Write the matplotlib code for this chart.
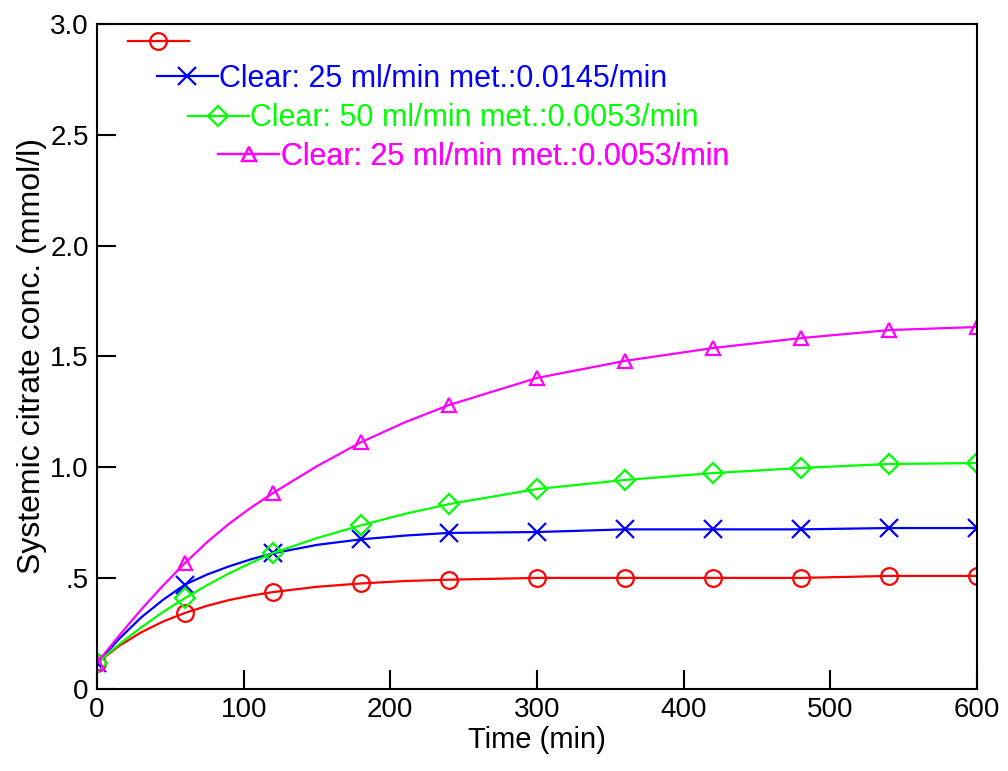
import matplotlib
matplotlib.use("Agg")
import matplotlib.pyplot as plt
from matplotlib.ticker import FuncFormatter

plt.rcParams["font.family"] = ["Liberation Sans", "DejaVu Sans"]

# time points (min); markers drawn every 60 min
time = [0, 15, 30, 45, 60, 75, 90, 105, 120, 150, 180, 210, 240, 300, 360, 420,
        480, 540, 600]
marker_idx = [i for i, t in enumerate(time) if t % 60 == 0]

red = [0.117, 0.194, 0.255, 0.304, 0.343, 0.375, 0.401, 0.421, 0.437, 0.461,
       0.476, 0.487, 0.493, 0.501, 0.501, 0.501, 0.501, 0.510, 0.510]
blue = [0.117, 0.225, 0.322, 0.402, 0.471, 0.516, 0.553, 0.585, 0.612, 0.650,
        0.675, 0.692, 0.704, 0.708, 0.720, 0.720, 0.720, 0.726, 0.726]
green = [0.117, 0.201, 0.277, 0.347, 0.410, 0.468, 0.521, 0.569, 0.613, 0.681,
         0.738, 0.790, 0.834, 0.902, 0.943, 0.974, 0.997, 1.015, 1.019]
pink = [0.117, 0.240, 0.357, 0.466, 0.568, 0.662, 0.745, 0.818, 0.884, 1.005,
        1.113, 1.203, 1.281, 1.403, 1.480, 1.538, 1.583, 1.619, 1.633]

labels = ["",
          "Clear: 25 ml/min met.:0.0145/min",
          "Clear: 50 ml/min met.:0.0053/min",
          "Clear: 25 ml/min met.:0.0053/min"]

series = [
    (red, "#ff0000", "o", 12),
    (blue, "#0000ff", "x", 13),
    (green, "#00ff00", "D", 10),
    (pink, "#ff00ff", "^", 10),
]

fig = plt.figure(figsize=(10.08, 7.71), dpi=100)
ax = fig.add_axes([0.0962, 0.1064, 0.8730, 0.8625])

lines = []
for (y, col, mk, ms), lab in zip(series, labels):
    ln, = ax.plot(time, y, color=col, lw=1.6, marker=mk, ms=ms, mfc="none",
                  mec=col, mew=1.6, markevery=marker_idx, label=lab)
    lines.append(ln)

ax.set_xlim(0, 600)
ax.set_ylim(0, 3.0)
ax.set_xticks([0, 100, 200, 300, 400, 500, 600])
ax.set_yticks([0, 0.5, 1.0, 1.5, 2.0, 2.5, 3.0])
ax.yaxis.set_major_formatter(FuncFormatter(
    lambda v, p: "0" if v == 0 else (".5" if v == 0.5 else f"{v:.1f}")))
ax.tick_params(direction="in", length=14, width=1.5, labelsize=20,
               top=False, right=False, pad=6)
for s in ax.spines.values():
    s.set_linewidth(1.5)

ax.set_xlabel("Time (min)", fontsize=21, labelpad=2)
ax.set_ylabel("Systemic citrate conc. (mmol/l)", fontsize=23, labelpad=2)

# staggered one-entry legends, as in the original
anchors = [(0.035, 0.971), (0.068, 0.918), (0.103, 0.858), (0.1375, 0.800)]
for ln, lab, anc in zip(lines, labels, anchors):
    leg = ax.legend(handles=[ln], labels=[lab], loc="center left",
                    bbox_to_anchor=anc, frameon=False, fontsize=22,
                    borderpad=0, borderaxespad=0, handlelength=2.0,
                    handletextpad=0.05, labelcolor="linecolor", numpoints=1)
    ax.add_artist(leg)

fig.savefig("out.png", dpi=100)
